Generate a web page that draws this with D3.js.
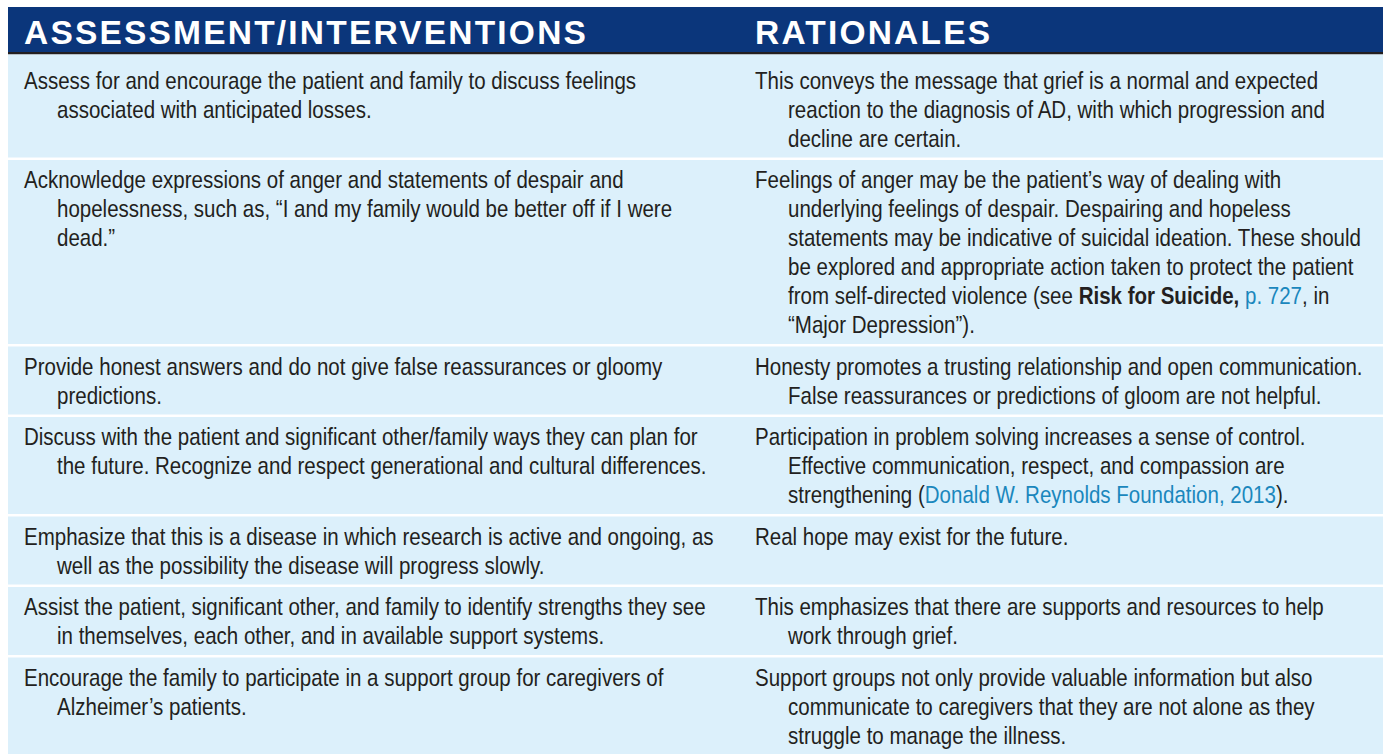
<!DOCTYPE html>
<html><head><meta charset="utf-8">
<script src="https://cdn.jsdelivr.net/npm/d3@7"></script>
<style>
html,body{margin:0;padding:0;background:#fff;}
svg{display:block;}
</style></head>
<body>
<svg id="chart" width="1385" height="754"></svg>
<script>
const headers = ["ASSESSMENT/INTERVENTIONS", "RATIONALES"];

const interventions = [
  ["Assess for and encourage the patient and family to discuss feelings", "associated with anticipated losses."],
  ["Acknowledge expressions of anger and statements of despair and", "hopelessness, such as, \u201cI and my family would be better off if I were", "dead.\u201d"],
  ["Provide honest answers and do not give false reassurances or gloomy", "predictions."],
  ["Discuss with the patient and significant other/family ways they can plan for", "the future. Recognize and respect generational and cultural differences."],
  ["Emphasize that this is a disease in which research is active and ongoing, as", "well as the possibility the disease will progress slowly."],
  ["Assist the patient, significant other, and family to identify strengths they see", "in themselves, each other, and in available support systems."],
  ["Encourage the family to participate in a support group for caregivers of", "Alzheimer\u2019s patients."]
];

const rationales = [
  ["This conveys the message that grief is a normal and expected", "reaction to the diagnosis of AD, with which progression and", "decline are certain."],
  ["Feelings of anger may be the patient\u2019s way of dealing with", "underlying feelings of despair. Despairing and hopeless", "statements may be indicative of suicidal ideation. These should", "be explored and appropriate action taken to protect the patient", "from self-directed violence (see **Risk for Suicide,** [p. 727], in", "\u201cMajor Depression\u201d)."],
  ["Honesty promotes a trusting relationship and open communication.", "False reassurances or predictions of gloom are not helpful."],
  ["Participation in problem solving increases a sense of control.", "Effective communication, respect, and compassion are", "strengthening ([Donald W. Reynolds Foundation, 2013])."],
  ["Real hope may exist for the future."],
  ["This emphasizes that there are supports and resources to help", "work through grief."],
  ["Support groups not only provide valuable information but also", "communicate to caregivers that they are not alone as they", "struggle to manage the illness."]
];

const W = 1385, H = 754;
const tableLeft = 8, tableRight = 1383;
const headTop = 7, headBottom = 52, ruleH = 2.5;
const lineH = 29, rowPad = 10, gap = 2.5, firstExtra = 6;
const colX = [24, 755], indent = 33;
const fontBody = "'Liberation Sans',Arial,Helvetica,sans-serif";
const bodySize = 24, squeeze = 0.855;

const svg = d3.select("#chart");

// rows layout
const rows = interventions.map((l, i) => ({left: l, right: rationales[i], n: Math.max(l.length, rationales[i].length)}));
let y = headBottom + ruleH;
rows.forEach((r, i) => {
  r.top = y;
  r.h = r.n * lineH + rowPad + (i === 0 ? firstExtra : 0);
  if (i === rows.length - 1) r.h = H - y;
  r.base = y + 28 + (i === 0 ? firstExtra : 0);
  y += r.h + gap;
});

// header
svg.append("rect").attr("x", tableLeft).attr("y", headTop).attr("width", tableRight - tableLeft)
  .attr("height", headBottom - headTop).attr("fill", "#0b367b");
svg.append("rect").attr("x", tableLeft).attr("y", headBottom).attr("width", tableRight - tableLeft)
  .attr("height", ruleH).attr("fill", "#231f20");
svg.selectAll("text.head").data(headers).join("text").attr("class", "head")
  .attr("x", (d, i) => colX[i]).attr("y", 43.5)
  .attr("fill", "#fff").attr("font-family", "'Liberation Sans',Arial,Helvetica,sans-serif")
  .attr("font-weight", "bold").attr("font-size", 33.5).attr("letter-spacing", 2.2)
  .text(d => d);

// rows
const g = svg.selectAll("g.row").data(rows).join("g").attr("class", "row");
g.append("rect").attr("x", tableLeft).attr("y", d => d.top).attr("width", tableRight - tableLeft)
  .attr("height", d => d.h).attr("fill", "#dcf0fb");

function parse(line) {
  const re = /\*\*(.+?)\*\*|\[(.+?)\]/g;
  const out = []; let last = 0, m;
  while ((m = re.exec(line))) {
    if (m.index > last) out.push({t: line.slice(last, m.index), s: "n"});
    if (m[1] !== undefined) out.push({t: m[1], s: "b"}); else out.push({t: m[2], s: "l"});
    last = re.lastIndex;
  }
  if (last < line.length) out.push({t: line.slice(last), s: "n"});
  return out;
}

[["left", 0], ["right", 1]].forEach(([key, c]) => {
  g.each(function(r) {
    const sel = d3.select(this);
    r[key].forEach((line, li) => {
      const tx = colX[c] + (li > 0 ? indent : 0), ty = r.base + li * lineH;
      const t = sel.append("text")
        .attr("transform", `translate(${tx},${ty}) scale(${squeeze},1)`)
        .attr("font-family", fontBody).attr("font-size", bodySize).attr("fill", "#231f20");
      parse(line).forEach(seg => {
        const ts = t.append("tspan").text(seg.t);
        if (seg.s === "b") ts.attr("font-weight", "bold");
        if (seg.s === "l") ts.attr("fill", "#1a87bd");
      });
    });
  });
});
</script>
</body></html>
